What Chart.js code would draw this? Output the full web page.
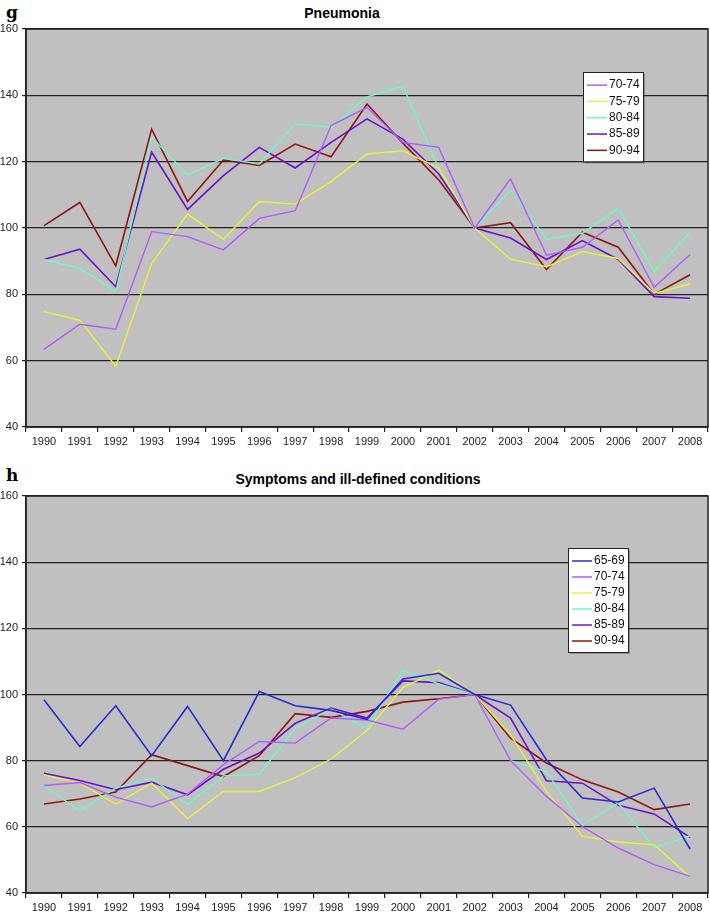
<!DOCTYPE html>
<html>
<head>
<meta charset="utf-8">
<script src="https://cdn.jsdelivr.net/npm/chart.js@4"></script>
<style>
    body { margin: 0; background: #fff; width: 710px; height: 915px; position: relative; overflow: hidden; }
    canvas { position: absolute; left: 0; }
    .panel { position: absolute; font-family: "DejaVu Serif", "Liberation Serif", serif; font-weight: bold; font-size: 17px; left: 6px; line-height: 1; }
    .title { position: absolute; font-family: "Liberation Sans", Arial, sans-serif; font-weight: bold; font-size: 14px; transform: translateX(-50%); white-space: nowrap; line-height: 1; }
</style>
</head>
<body>
<div class="panel" style="top:4px">g</div>
<div class="title" style="left:342px; top:6px">Pneumonia</div>
<canvas id="pneumoniaChart" width="710" height="450" style="top:0"></canvas>

<div class="panel" style="top:467px">h</div>
<div class="title" style="left:358px; top:472px">Symptoms and ill-defined conditions</div>
<canvas id="symptomsChart" width="710" height="455" style="top:460px"></canvas>

<script>
const years = ['1990', '1991', '1992', '1993', '1994', '1995', '1996', '1997', '1998', '1999',
               '2000', '2001', '2002', '2003', '2004', '2005', '2006', '2007', '2008'];
const yTicks = [40, 60, 80, 100, 120, 140, 160];

// g - Pneumonia
const pneu70_74 = [63.4, 71.0, 69.5, 98.9, 97.4, 93.4, 102.9, 105.2, 130.9, 136.4, 125.8, 124.3, 100, 114.8, 91.8, 94.2, 102.4, 82.1, 92.0];
const pneu75_79 = [74.8, 72.2, 58.3, 89.3, 104.2, 96.6, 108.0, 107.2, 114.0, 122.3, 123.3, 118.0, 100, 90.6, 88.3, 92.9, 90.8, 80.3, 83.1];
const pneu80_84 = [90.5, 87.8, 80.8, 127.4, 116.0, 121.0, 119.3, 131.4, 130.4, 139.5, 142.8, 118.0, 100, 111.3, 96.6, 98.4, 106.0, 86.8, 98.7];
const pneu85_89 = [90.5, 93.6, 82.3, 122.9, 105.6, 115.8, 124.3, 118.1, 125.8, 132.9, 126.8, 116.3, 100, 97.0, 90.5, 96.2, 90.5, 79.3, 78.8];
const pneu90_94 = [100.7, 107.7, 88.6, 129.8, 108.0, 120.5, 118.9, 125.3, 121.5, 137.4, 125.6, 114.5, 100, 101.6, 87.5, 98.7, 94.2, 80.0, 85.9];

// h - Symptoms and ill-defined conditions
const symp65_69 = [98.4, 84.3, 96.6, 81.5, 96.4, 80.0, 100.9, 96.6, 95.2, 92.5, 104.7, 106.4, 100, 96.8, 80.3, 68.7, 67.5, 71.7, 53.3];
const symp70_74 = [72.5, 73.4, 69.0, 66.0, 69.9, 78.8, 85.8, 85.3, 92.9, 92.3, 89.5, 98.6, 100, 80.0, 69.2, 60.1, 53.6, 48.6, 45.0];
const symp75_79 = [75.7, 73.2, 66.9, 73.2, 62.5, 70.7, 70.7, 74.9, 80.5, 89.1, 102.1, 107.4, 100, 87.8, 70.7, 57.1, 55.4, 54.6, 44.8];
const symp80_84 = [72.2, 64.9, 71.7, 74.7, 66.7, 75.4, 75.9, 89.8, 95.6, 89.8, 107.4, 103.2, 100, 80.0, 76.7, 60.6, 67.2, 53.6, 57.3];
const symp85_89 = [76.2, 74.0, 71.2, 73.5, 69.7, 77.4, 82.3, 91.3, 95.9, 92.9, 104.1, 103.6, 100, 92.9, 73.9, 73.2, 66.5, 63.9, 56.8];
const symp90_94 = [66.9, 68.4, 70.5, 81.8, 78.5, 75.2, 81.5, 94.2, 93.1, 94.9, 97.7, 98.7, 100, 86.8, 79.3, 74.2, 70.5, 65.2, 66.9];

const colors = {
    '65-69': '#2a2ad2',
    '70-74': '#b05cff',
    '75-79': '#e8f23c',
    '80-84': '#72f7c6',
    '85-89': '#6c12cc',
    '90-94': '#8e1616'
};

const textFont = { family: '"Liberation Sans", Arial, sans-serif', size: 11 };

function line(label, data) {
    const dark = (label === '85-89' || label === '90-94' || label === '65-69');
    return {
        label: label,
        data: data,
        borderColor: colors[label],
        backgroundColor: colors[label],
        borderWidth: dark ? 1.6 : 1.4,
        pointRadius: 0,
        tension: 0,
        fill: false
    };
}

// grey plot area with a dark frame
const plotFrame = {
    id: 'plotFrame',
    beforeDraw(chart) {
        const a = chart.chartArea;
        const ctx = chart.ctx;
        ctx.save();
        ctx.fillStyle = '#c0c0c0';
        ctx.fillRect(a.left, a.top, a.right - a.left, a.bottom - a.top);
        ctx.restore();
    },
    afterDraw(chart) {
        const a = chart.chartArea;
        const ctx = chart.ctx;
        ctx.save();
        ctx.strokeStyle = '#222';
        ctx.lineWidth = 1.5;
        ctx.strokeRect(a.left, a.top, a.right - a.left, a.bottom - a.top);
        ctx.restore();
    }
};

// Excel style legend box inside the plot
const boxLegend = {
    id: 'boxLegend',
    afterDraw(chart, args, opts) {
        const ctx = chart.ctx;
        const sets = chart.data.datasets;
        const h = opts.rowHeight * sets.length + 8;
        ctx.save();
        ctx.fillStyle = 'rgba(0,0,0,0.25)';
        ctx.fillRect(opts.x + 2, opts.y + 2, opts.width, h);
        ctx.fillStyle = '#fff';
        ctx.fillRect(opts.x, opts.y, opts.width, h);
        ctx.strokeStyle = '#222';
        ctx.lineWidth = 1;
        ctx.strokeRect(opts.x + 0.5, opts.y + 0.5, opts.width, h);
        ctx.font = '12px "Liberation Sans", Arial, sans-serif';
        ctx.textBaseline = 'middle';
        sets.forEach((ds, i) => {
            const cy = opts.y + 4 + opts.rowHeight * (i + 0.5) + 1;
            ctx.strokeStyle = ds.borderColor;
            ctx.lineWidth = 1.5;
            ctx.beginPath();
            ctx.moveTo(opts.x + 4, cy);
            ctx.lineTo(opts.x + 24, cy);
            ctx.stroke();
            ctx.fillStyle = '#111';
            ctx.fillText(ds.label, opts.x + 26, cy);
        });
        ctx.restore();
    }
};

function makeChart(id, datasets, padTop, xHeight, legendPos) {
    const ctx = document.getElementById(id).getContext('2d');
    return new Chart(ctx, {
        type: 'line',
        data: { labels: years, datasets: datasets },
        options: {
            responsive: false,
            animation: false,
            layout: { padding: { top: padTop, right: 2, left: 0, bottom: 0 } },
            plugins: {
                legend: { display: false },
                tooltip: { enabled: false },
                boxLegend: legendPos
            },
            scales: {
                x: {
                    offset: true,
                    grid: {
                        offset: true,
                        drawOnChartArea: false,
                        drawTicks: true,
                        tickLength: 5,
                        color: '#222',
                        lineWidth: 1.2
                    },
                    border: { display: true, color: '#222', width: 1.5 },
                    ticks: { color: '#222', font: textFont, padding: 3, maxRotation: 0, autoSkip: false },
                    afterFit(scale) { scale.height = xHeight; }
                },
                y: {
                    min: 40,
                    max: 160,
                    afterBuildTicks(scale) { scale.ticks = yTicks.map(v => ({ value: v })); },
                    grid: {
                        color: '#222',
                        lineWidth: 1.2,
                        drawTicks: true,
                        tickLength: 4
                    },
                    border: { display: true, color: '#222', width: 1.5 },
                    ticks: { color: '#222', font: textFont, padding: 4 },
                    afterFit(scale) { scale.width = 26; }
                }
            }
        },
        plugins: [plotFrame, boxLegend]
    });
}

makeChart('pneumoniaChart', [
    line('70-74', pneu70_74),
    line('75-79', pneu75_79),
    line('80-84', pneu80_84),
    line('85-89', pneu85_89),
    line('90-94', pneu90_94)
], 29, 23, { x: 583, y: 72, width: 60, rowHeight: 16.3 });

makeChart('symptomsChart', [
    line('65-69', symp65_69),
    line('70-74', symp70_74),
    line('75-79', symp75_79),
    line('80-84', symp80_84),
    line('85-89', symp85_89),
    line('90-94', symp90_94)
], 36, 22, { x: 568, y: 88, width: 60, rowHeight: 16 });
</script>
</body>
</html>
